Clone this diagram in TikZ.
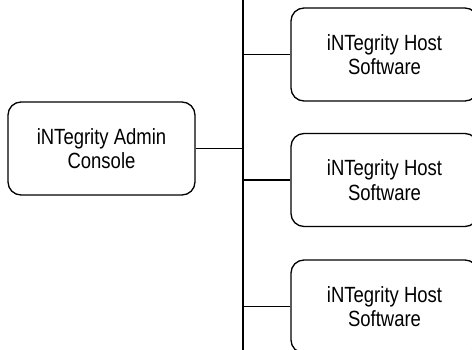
\documentclass[tikz,border=0pt]{standalone}
\usepackage{fontspec}
\setmainfont{Liberation Sans}[FakeStretch=0.84]
\begin{document}
\begin{tikzpicture}[x=1pt, y=-1pt,
    line width=1.3pt,
    boxstyle/.style={draw, rounded corners=13pt, minimum width=187pt, minimum height=93pt,
      align=center, font=\fontsize{22}{24.5}\selectfont, inner sep=0pt}]
  % Page frame (clips the boxes at the right and bottom edge)
  \useasboundingbox (0,0) rectangle (472,350);
  \clip (0,0) rectangle (472,350);
  % Admin console (left)
  \node[boxstyle] (admin) at (101.5,148.5) {iNTegrity Admin\\Console};
  % Host software boxes (right)
  \node[boxstyle] (hostA) at (384.5,54.5) {iNTegrity Host\\Software};
  \node[boxstyle] (hostB) at (384.5,180) {iNTegrity Host\\Software};
  \node[boxstyle] (hostC) at (384.5,306.5) {iNTegrity Host\\Software};
  % Network bus
  \coordinate (bustop) at (243,0);
  \coordinate (busbot) at (243,350);
  \draw (bustop) -- (busbot);
  % Branches to the bus
  \draw (admin.east) -- (admin.east -| bustop);
  \draw (hostA.west) -- (hostA.west -| bustop);
  \draw (hostB.west) -- (hostB.west -| bustop);
  \draw (hostC.west) -- (hostC.west -| bustop);
\end{tikzpicture}
\end{document}
